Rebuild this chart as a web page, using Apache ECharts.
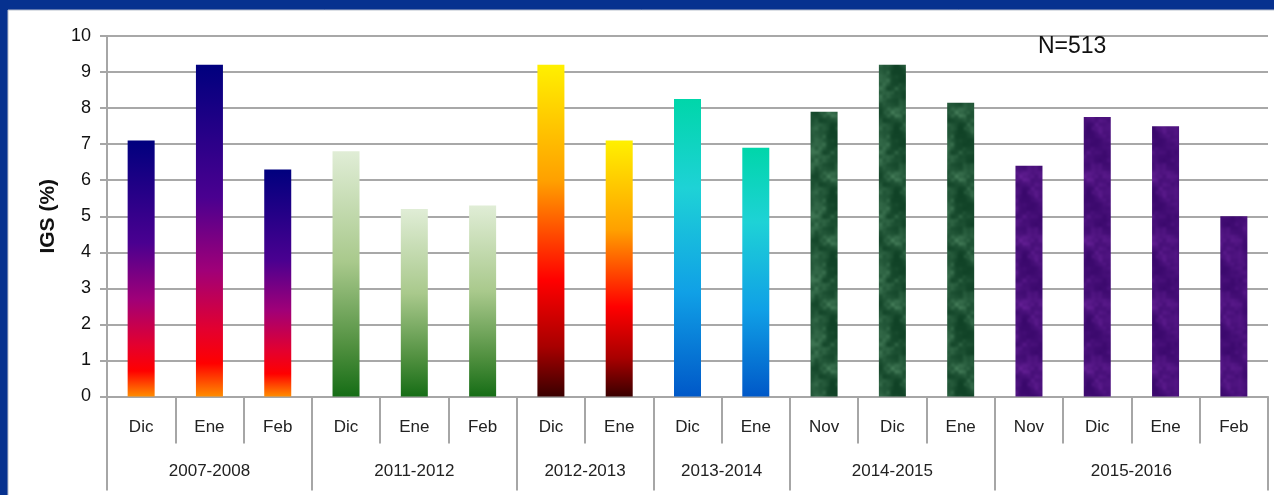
<!DOCTYPE html>
<html>
<head>
<meta charset="utf-8">
<script src="https://cdn.jsdelivr.net/npm/echarts@6/dist/echarts.min.js"></script>
<style>
  html, body { margin: 0; padding: 0; background: #06318f; }
  #chart { width: 1274px; height: 495px; }
</style>
</head>
<body>
<div id="chart"></div>
<script>
// ---- data ----
const groupNames = ['2007-2008', '2011-2012', '2012-2013', '2013-2014', '2014-2015', '2015-2016'];
const groupSizes = [3, 3, 2, 2, 3, 4];
const months = ['Dic', 'Ene', 'Feb', 'Dic', 'Ene', 'Feb', 'Dic', 'Ene', 'Dic', 'Ene', 'Nov', 'Dic', 'Ene', 'Nov', 'Dic', 'Ene', 'Feb'];
const values = [7.1, 9.2, 6.3, 6.8, 5.2, 5.3, 9.2, 7.1, 8.25, 6.9, 7.9, 9.2, 8.15, 6.4, 7.75, 7.5, 5.0];
const yTicks = [0, 1, 2, 3, 4, 5, 6, 7, 8, 9, 10];
const sampleLabel = 'N=513';
const yName = 'IGS (%)';

// ---- textures (style only) ----
function hash(x, y) {
  let h = (x * 374761393 + y * 668265263) | 0;
  h = Math.imul(h ^ (h >>> 13), 1274126177);
  h = h ^ (h >>> 16);
  return ((h >>> 0) % 1000) / 1000;
}
function valueNoise(x, y, cell, period) {
  const gx = Math.floor(x / cell), gy = Math.floor(y / cell);
  const fx = (x % cell) / cell, fy = (y % cell) / cell;
  const n = period / cell;
  const a = hash(gx % n, gy % n), b = hash((gx + 1) % n, gy % n);
  const c = hash(gx % n, (gy + 1) % n), d = hash((gx + 1) % n, (gy + 1) % n);
  const sx = fx * fx * (3 - 2 * fx), sy = fy * fy * (3 - 2 * fy);
  return (a * (1 - sx) + b * sx) * (1 - sy) + (c * (1 - sx) + d * sx) * sy;
}
function makeTexture(dark, light, power) {
  const size = 64;
  const cv = document.createElement('canvas');
  cv.width = size; cv.height = size;
  const ctx = cv.getContext('2d');
  const img = ctx.createImageData(size, size);
  for (let y = 0; y < size; y++) {
    for (let x = 0; x < size; x++) {
      let n = 0.45 * valueNoise(x, y, 16, size) + 0.3 * valueNoise(x, y, 8, size) + 0.25 * valueNoise(x, y, 4, size);
      n = Math.pow(n, power);
      const i = (y * size + x) * 4;
      for (let k = 0; k < 3; k++) img.data[i + k] = Math.round(dark[k] + (light[k] - dark[k]) * n);
      img.data[i + 3] = 255;
    }
  }
  ctx.putImageData(img, 0, 0);
  return cv;
}

const G = echarts.graphic.LinearGradient;
const groupFills = [
  new G(0, 0, 0, 1, [
    { offset: 0, color: '#00007e' }, { offset: 0.4, color: '#4a0090' },
    { offset: 0.62, color: '#a00078' }, { offset: 0.8, color: '#e4002e' },
    { offset: 0.9, color: '#ff0000' }, { offset: 1, color: '#ff8c00' }]),
  new G(0, 0, 0, 1, [
    { offset: 0, color: '#e0edd6' }, { offset: 0.45, color: '#a9c98c' },
    { offset: 0.8, color: '#4f8f3e' }, { offset: 1, color: '#166d16' }]),
  new G(0, 0, 0, 1, [
    { offset: 0, color: '#fff000' }, { offset: 0.35, color: '#ffa000' },
    { offset: 0.65, color: '#ff0000' }, { offset: 0.85, color: '#a80000' },
    { offset: 1, color: '#3a0000' }]),
  new G(0, 0, 0, 1, [
    { offset: 0, color: '#00d6aa' }, { offset: 0.3, color: '#1ed2d6' },
    { offset: 0.65, color: '#10a0e6' }, { offset: 1, color: '#0058c8' }]),
  { image: makeTexture([16, 66, 38], [88, 146, 108], 2.0), repeat: 'repeat' },
  { image: makeTexture([58, 8, 108], [112, 38, 160], 1.6), repeat: 'repeat' }
];

// group index for each month
const groupOf = [];
groupSizes.forEach((s, g) => { for (let k = 0; k < s; k++) groupOf.push(g); });

// second (group) axis on half-category steps
const halfCount = months.length * 2 + 1;
const groupAxisData = new Array(halfCount).fill('');
const boundaries = new Set([0]);
let start = 0;
groupSizes.forEach((s, g) => {
  groupAxisData[2 * start + s] = groupNames[g];
  start += s;
  boundaries.add(2 * start);
});

const chart = echarts.init(document.getElementById('chart'), null, { renderer: 'canvas' });
const labelFont = 'Liberation Sans, Arial, sans-serif';

chart.setOption({
  animation: false,
  backgroundColor: '#06318f',
  graphic: [{
    type: 'rect', z: -10, silent: true,
    shape: { x: 8, y: 10, width: 1280, height: 500 },
    style: { fill: '#ffffff', stroke: '#b8bfcc', lineWidth: 1 }
  }],
  title: {
    text: sampleLabel, left: 1033, top: 30,
    textStyle: { fontSize: 23, fontWeight: 'normal', color: '#111', fontFamily: labelFont }
  },
  grid: { left: 107, right: 6, top: 36, bottom: 98.5, containLabel: false },
  xAxis: [{
    type: 'category', position: 'bottom', data: months,
    axisLine: { show: true, lineStyle: { color: '#a6a6a6', width: 2 } },
    axisTick: { show: true, interval: 0, length: 47, lineStyle: { color: '#a6a6a6', width: 2 } },
    axisLabel: { interval: 0, margin: 22, fontSize: 17, color: '#222', fontFamily: labelFont }
  }, {
    type: 'category', position: 'bottom', data: groupAxisData, boundaryGap: false,
    axisLine: { show: false },
    axisTick: { show: true, length: 94, interval: (idx) => boundaries.has(idx), lineStyle: { color: '#a6a6a6', width: 2 } },
    axisLabel: { interval: 0, margin: 66, fontSize: 17, color: '#222', fontFamily: labelFont }
  }],
  yAxis: {
    type: 'value', min: yTicks[0], max: yTicks[yTicks.length - 1], interval: 1,
    name: yName, nameLocation: 'middle', nameGap: 48,
    nameTextStyle: { fontSize: 21, fontWeight: 'bold', color: '#111', fontFamily: labelFont },
    axisLine: { show: true, lineStyle: { color: '#a6a6a6', width: 2 } },
    axisTick: { show: true, length: 7, lineStyle: { color: '#a6a6a6', width: 2 } },
    axisLabel: { margin: 16, fontSize: 18, color: '#111', fontFamily: labelFont },
    splitLine: { show: true, lineStyle: { color: '#a8a8a8', width: 2 } }
  },
  series: [{
    type: 'bar', xAxisIndex: 0, barWidth: 27,
    data: values.map((v, i) => ({ value: v, itemStyle: { color: groupFills[groupOf[i]] } }))
  }]
});
</script>
</body>
</html>
